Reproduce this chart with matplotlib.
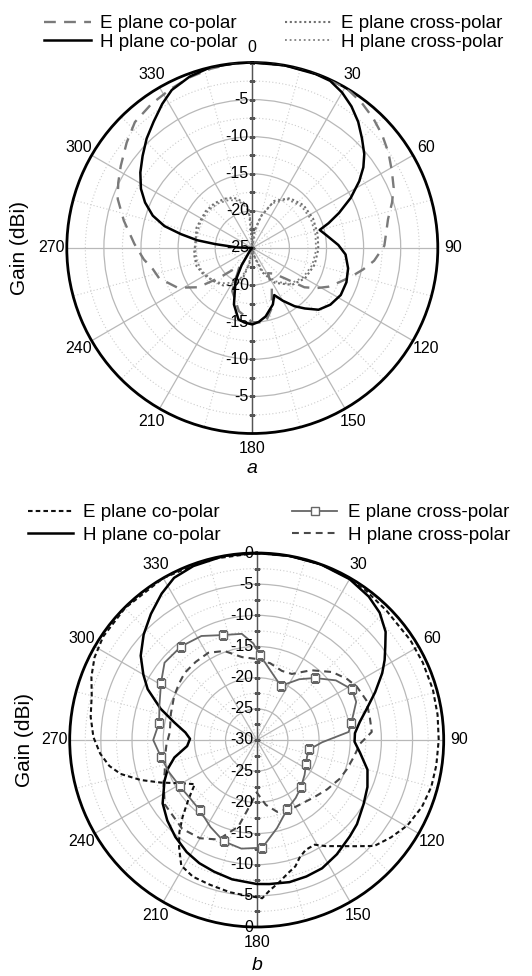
import numpy as np
import matplotlib
matplotlib.use("Agg")
import matplotlib.pyplot as plt

plt.rcParams['font.family'] = ['Liberation Sans', 'DejaVu Sans']

# ---------------- data: panel a (angles in degrees, gain in dBi) ----------------
a_h_co_ang = [0, 10, 20, 25, 30, 35, 40, 45, 50, 54, 58, 63, 68, 72, 75, 80, 88, 94, 102, 110,
              118, 126, 133, 139, 144, 150, 155, 160, 169, 175, 180, 186, 191, 198, 207, 212,
              220, 235, 250, 265, 272, 276, 278, 281, 284, 288, 293, 298, 304, 310, 316, 322,
              328, 333, 340, 347, 355, 360]
a_h_co_val = [0, 0, -0.05, -0.15, -0.8, -1.7, -2.8, -4.1, -5.3, -6.5, -8.0, -10.1, -12.4, -14.2,
              -15.6, -14.9, -13.4, -12.4, -11.8, -11.5, -11.5, -12.0, -12.8, -14.2, -15.3, -16.8,
              -18.0, -16.9, -15.6, -15.0, -14.7, -14.9, -15.2, -17.0, -20.0, -22.3, -24.5, -25,
              -25, -25, -23, -20, -17.5, -15.2, -12.8, -10.9, -9.3, -8.0, -6.8, -5.7, -4.5, -3.4,
              -2.1, -1.1, -0.4, 0, 0, 0]

a_e_co_ang = [0, 10, 20, 25, 31, 37, 43, 49, 55, 61, 67, 72, 78, 83, 89, 96, 101, 106, 111, 117,
              122, 127, 133, 140, 148, 154, 162, 170, 180, 192, 205, 215, 222, 228, 234, 242,
              252, 258, 264, 272, 282, 290, 296, 302, 310, 317, 325, 333, 340, 347, 354, 360]
a_e_co_val = [0, 0, 0, 0, -0.05, -0.5, -1.1, -1.8, -2.6, -3.5, -4.3, -5.2, -6.3, -6.8, -7.2, -8.5,
              -9.8, -11.1, -12.3, -13.5, -14.8, -16.2, -19.0, -20.5, -21.0, -19.0, -16.5, -14.8,
              -15.0, -16.3, -18.6, -22.0, -21.0, -19.0, -16.0, -13.6, -11.8, -11.3, -10.3, -9.1,
              -7.3, -5.7, -4.9, -4.1, -2.9, -1.8, -1.3, -0.9, -0.5, -0.2, 0, 0]

a_e_x_ang = [0, 8, 16, 25, 37, 50, 64, 78, 91, 105, 120, 133, 147, 158, 168, 175, 182, 190, 197,
             207, 218, 230, 242, 252, 264, 276, 290, 308, 320, 331, 340, 348, 355, 360]
a_e_x_val = [-25, -22.5, -20.4, -18.0, -16.6, -16.0, -15.9, -16.0, -16.1, -16.3, -16.8, -17.7,
             -19.4, -21.5, -24.0, -25, -25, -23.0, -21.0, -19.5, -18.6, -18.1, -17.5, -17.1,
             -17.1, -17.3, -17.0, -17.0, -17.1, -17.4, -17.8, -18.6, -19.6, -25]

a_h_x_ang = [0, 6, 14, 24, 36, 50, 64, 78, 92, 106, 120, 134, 146, 156, 166, 174, 182, 192, 200,
             210, 222, 234, 246, 258, 270, 282, 296, 310, 322, 334, 344, 352, 358, 360]
a_h_x_val = [-25, -23.0, -20.8, -18.4, -16.9, -16.3, -16.2, -16.3, -16.4, -16.6, -17.1, -18.0,
             -19.6, -21.6, -23.8, -25, -25, -22.6, -20.8, -19.6, -18.6, -18.0, -17.5, -17.3,
             -17.3, -17.3, -17.2, -17.2, -17.4, -17.8, -18.4, -19.5, -21.5, -25]

# ---------------- data: panel b ----------------
b_h_co_ang = [0, 10, 20, 30, 38, 44, 50, 54, 58, 62, 68, 74, 80, 86, 91, 97, 105, 113, 121, 130,
              136, 145, 153, 160, 167, 175, 180, 190, 198, 205, 212, 220, 228, 236, 246, 252,
              258, 265, 271, 276, 282, 288, 295, 300, 306, 313, 320, 327, 333, 340, 350, 360]
b_h_co_val = [0, 0, 0, -0.2, -0.8, -1.6, -3.0, -4.5, -5.8, -7.2, -9.5, -11.6, -13.2, -14.2, -14.3,
              -13.3, -11.6, -10.7, -10.0, -9.0, -8.5, -7.6, -6.9, -6.7, -6.6, -6.8, -6.9, -7.3,
              -7.8, -8.2, -8.8, -9.7, -10.7, -11.8, -13.8, -15.0, -16.5, -18.8, -19.3, -18.5,
              -16.5, -13.8, -10.7, -9.0, -7.0, -5.2, -3.6, -2.0, -0.8, -0.3, 0, 0]

b_e_co_ang = [0, 10, 20, 30, 36, 45, 57, 65, 74, 82, 90, 98, 105, 112, 119.5, 126, 132, 137,
              142, 147, 151, 156, 160, 163, 167, 171, 175, 178, 184, 190, 198, 205, 211, 216,
              220, 224, 229, 234.5, 240, 246, 251, 256, 260, 265, 271, 278, 285, 291, 297, 304,
              315, 330, 345, 360]
b_e_co_val = [0, 0, 0, -0.1, -0.3, -0.6, -0.6, -0.6, -0.6, -0.7, -0.8, -0.9, -1.0, -1.4, -2.2,
              -3.4, -4.6, -6.7, -8.4, -9.7, -10.8, -10.7, -9.9, -8.8, -8.0, -6.9, -5.8, -4.6,
              -5.0, -5.2, -5.6, -5.8, -6.5, -8.8, -10.7, -12.9, -15.5, -17.8, -16.1, -13.2,
              -10.3, -7.5, -6.0, -4.8, -3.8, -3.1, -2.6, -1.6, -0.8, -0.3, -0.1, 0, 0, 0]

b_e_x_ang = [2, 24, 35, 43, 53, 62, 69, 80, 85, 92, 100, 108, 116, 126, 137, 146, 156, 167, 177,
             188, 198, 208, 219, 229, 239, 250, 260, 270, 280, 290, 301, 310, 321, 332, 342,
             352, 358, 362]
b_e_x_val = [-16.3, -20.5, -18.1, -16.4, -14.1, -12.7, -12.9, -14.6, -15.2, -19.5, -21.4, -21.5,
             -21.2, -20.5, -19.6, -18.8, -17.9, -15.5, -12.7, -12.4, -12.9, -14.2, -15.5, -15.8,
             -15.6, -15.0, -14.4, -13.4, -14.1, -13.4, -12.1, -10.7, -10.7, -11.1, -12.3, -12.8,
             -14.5, -16.3]
b_e_x_marker_ang = [2, 24, 43, 62, 80, 100, 116, 137, 156, 177, 198, 219, 239, 260, 280, 301,
                    321, 342]

b_h_x_ang = [0, 10, 20, 28, 38, 48, 56, 62, 70, 79, 86, 92, 100, 108, 115, 125, 135, 150, 164,
             172, 180, 185, 192, 201, 210, 220, 235, 245, 251, 259, 267, 275, 287, 298, 306,
             313, 322, 331, 340, 350, 360]
b_h_x_val = [-17.0, -17.5, -18.2, -18.0, -15.8, -13.7, -12.5, -11.8, -11.3, -11.5, -11.5, -13.4,
             -14.2, -14.8, -15.3, -16.2, -17.0, -17.6, -18.0, -19.5, -21.6, -19.8, -15.8, -12.9,
             -11.8, -11.4, -12.0, -13.5, -14.4, -15.0, -15.5, -16.0, -15.6, -15.0, -14.6, -14.2,
             -14.1, -14.0, -14.8, -16.5, -17.0]

angle_labels = ['0', '30', '60', '90', '120', '150', '180', '210', '240', '270', '300', '330']
legend_labels = ['E plane co-polar', 'H plane co-polar', 'E plane cross-polar', 'H plane cross-polar']

TICK_FS = 11.5
GRID_MAJ = '#b8b8b8'
GRID_MIN = '#cdcdcd'


def setup(ax, rmin, major_r, minor_r, top_labels, bottom_labels, center_label, xlabels):
    ax.set_theta_zero_location('N')
    ax.set_theta_direction(-1)
    ax.set_ylim(rmin, 0)
    ax.set_xticks(np.deg2rad(np.arange(0, 360, 30)))
    ax.set_xticklabels(xlabels, fontsize=TICK_FS)
    ax.set_xticks(np.deg2rad(np.arange(15, 360, 30)), minor=True)
    ax.set_yticks(major_r)
    ax.set_yticks(minor_r, minor=True)
    ax.set_yticklabels([])
    ax.tick_params(axis='x', pad=4, length=0)
    ax.tick_params(axis='y', length=0, which='both')
    ax.xaxis.grid(True, which='major', color=GRID_MAJ, lw=0.9, ls='-')
    ax.xaxis.grid(True, which='minor', color=GRID_MIN, lw=0.8, ls=(0, (1, 2)))
    ax.yaxis.grid(True, which='major', color=GRID_MAJ, lw=0.9, ls='-')
    ax.yaxis.grid(True, which='minor', color=GRID_MIN, lw=0.8, ls=(0, (1, 2)))
    ax.spines['polar'].set_linewidth(2.0)
    ax.spines['polar'].set_color('black')
    ax.set_axisbelow(True)
    # vertical axis line with ticks
    ax.plot([0, 0], [rmin, 0], color='#555555', lw=1.0, zorder=1.5)
    ax.plot([np.pi, np.pi], [rmin, 0], color='#555555', lw=1.0, zorder=1.5)
    tick_r = np.arange(rmin, 0.01, 2.5)
    for th_ in (0, np.pi):
        ax.plot(np.full(len(tick_r), th_), tick_r, ls='none', marker='_', ms=4,
                mew=0.9, color='#555555', zorder=1.5)
    for r in top_labels:
        ax.annotate(f'{r:g}', xy=(0, r), xytext=(-2.5, 0), textcoords='offset points',
                    ha='right', va='center', fontsize=TICK_FS, zorder=5)
    for r in bottom_labels:
        ax.annotate(f'{r:g}', xy=(np.pi, r), xytext=(-2.5, 0), textcoords='offset points',
                    ha='right', va='center', fontsize=TICK_FS, zorder=5)
    ax.annotate(center_label, xy=(0, rmin), xytext=(-2.5, 0), textcoords='offset points',
                ha='right', va='center', fontsize=TICK_FS, zorder=5)


def th(a):
    return np.deg2rad(np.asarray(a, dtype=float))


fig = plt.figure(figsize=(5.32, 9.76), dpi=100)
W, H = 532.0, 976.0

# ---------------- panel a ----------------
ca, ra = (252.3, 248.0), 185.5
axA = fig.add_axes([(ca[0] - ra) / W, 1 - (ca[1] + ra) / H, 2 * ra / W, 2 * ra / H], projection='polar')
setup(axA, -25, [-20, -15, -10, -5], [-22.5, -17.5, -12.5, -7.5, -2.5],
      [-5, -10, -15, -20], [-20, -15, -10, -5], '-25', angle_labels)

la1, = axA.plot(th(a_e_co_ang), a_e_co_val, color='#7a7a7a', lw=1.7, ls=(0, (5, 3.5)), zorder=3)
la2, = axA.plot(th(a_h_co_ang), a_h_co_val, color='black', lw=1.8, zorder=4)
la3, = axA.plot(th(a_e_x_ang), a_e_x_val, color='#707070', lw=1.5, ls=(0, (1, 1.3)), zorder=3)
la4, = axA.plot(th(a_h_x_ang), a_h_x_val, color='#808080', lw=1.3, ls=(0, (1, 1.6)), zorder=3)

fig.legend([la1, la2, la3, la4], legend_labels, loc='upper left',
           bbox_to_anchor=(44 / W, 1 - 15 / H), ncol=2, frameon=False, fontsize=13.5,
           handlelength=2.5, handletextpad=0.5, columnspacing=2.5, labelspacing=0.08,
           borderpad=0, borderaxespad=0)

fig.text(20 / W, 1 - 248 / H, 'Gain (dBi)', rotation=90, ha='center', va='center', fontsize=15)
fig.text(252 / W, 1 - 468 / H, 'a', style='italic', ha='center', va='center', fontsize=14)

# ---------------- panel b ----------------
cb, rb = (256.7, 740.0), 187.0
axB = fig.add_axes([(cb[0] - rb) / W, 1 - (cb[1] + rb) / H, 2 * rb / W, 2 * rb / H], projection='polar')
b_labels = [''] + angle_labels[1:]
setup(axB, -30, [-25, -20, -15, -10, -5], [-27.5, -22.5, -17.5, -12.5, -7.5, -2.5],
      [0, -5, -10, -15, -20, -25], [-25, -20, -15, -10, -5, 0], '-30', b_labels)

lb1, = axB.plot(th(b_e_co_ang), b_e_co_val, color='#111111', lw=1.5, ls=(0, (2.2, 1.5)), zorder=3)
lb2, = axB.plot(th(b_h_co_ang), b_h_co_val, color='black', lw=1.8, zorder=4)
mk_idx = [b_e_x_ang.index(a) for a in b_e_x_marker_ang]
lb3, = axB.plot(th(b_e_x_ang), b_e_x_val, color='#666666', lw=1.3, marker='s', ms=5.5,
                mfc='white', mec='#666666', mew=1.0, markevery=mk_idx, zorder=4)
lb4, = axB.plot(th(b_h_x_ang), b_h_x_val, color='#4a4a4a', lw=1.5, ls=(0, (3.3, 2.4)), zorder=3)

fig.legend([lb1, lb2, lb3, lb4], legend_labels, loc='upper left',
           bbox_to_anchor=(28 / W, 1 - 504 / H), ncol=2, frameon=False, fontsize=13.5,
           handlelength=2.4, handletextpad=0.55, columnspacing=3.8, labelspacing=0.28,
           borderpad=0, borderaxespad=0)

fig.text(25 / W, 1 - 740 / H, 'Gain (dBi)', rotation=90, ha='center', va='center', fontsize=15)
fig.text(257 / W, 1 - 966 / H, 'b', style='italic', ha='center', va='center', fontsize=14)

fig.savefig('out.png', dpi=100, facecolor='white')
